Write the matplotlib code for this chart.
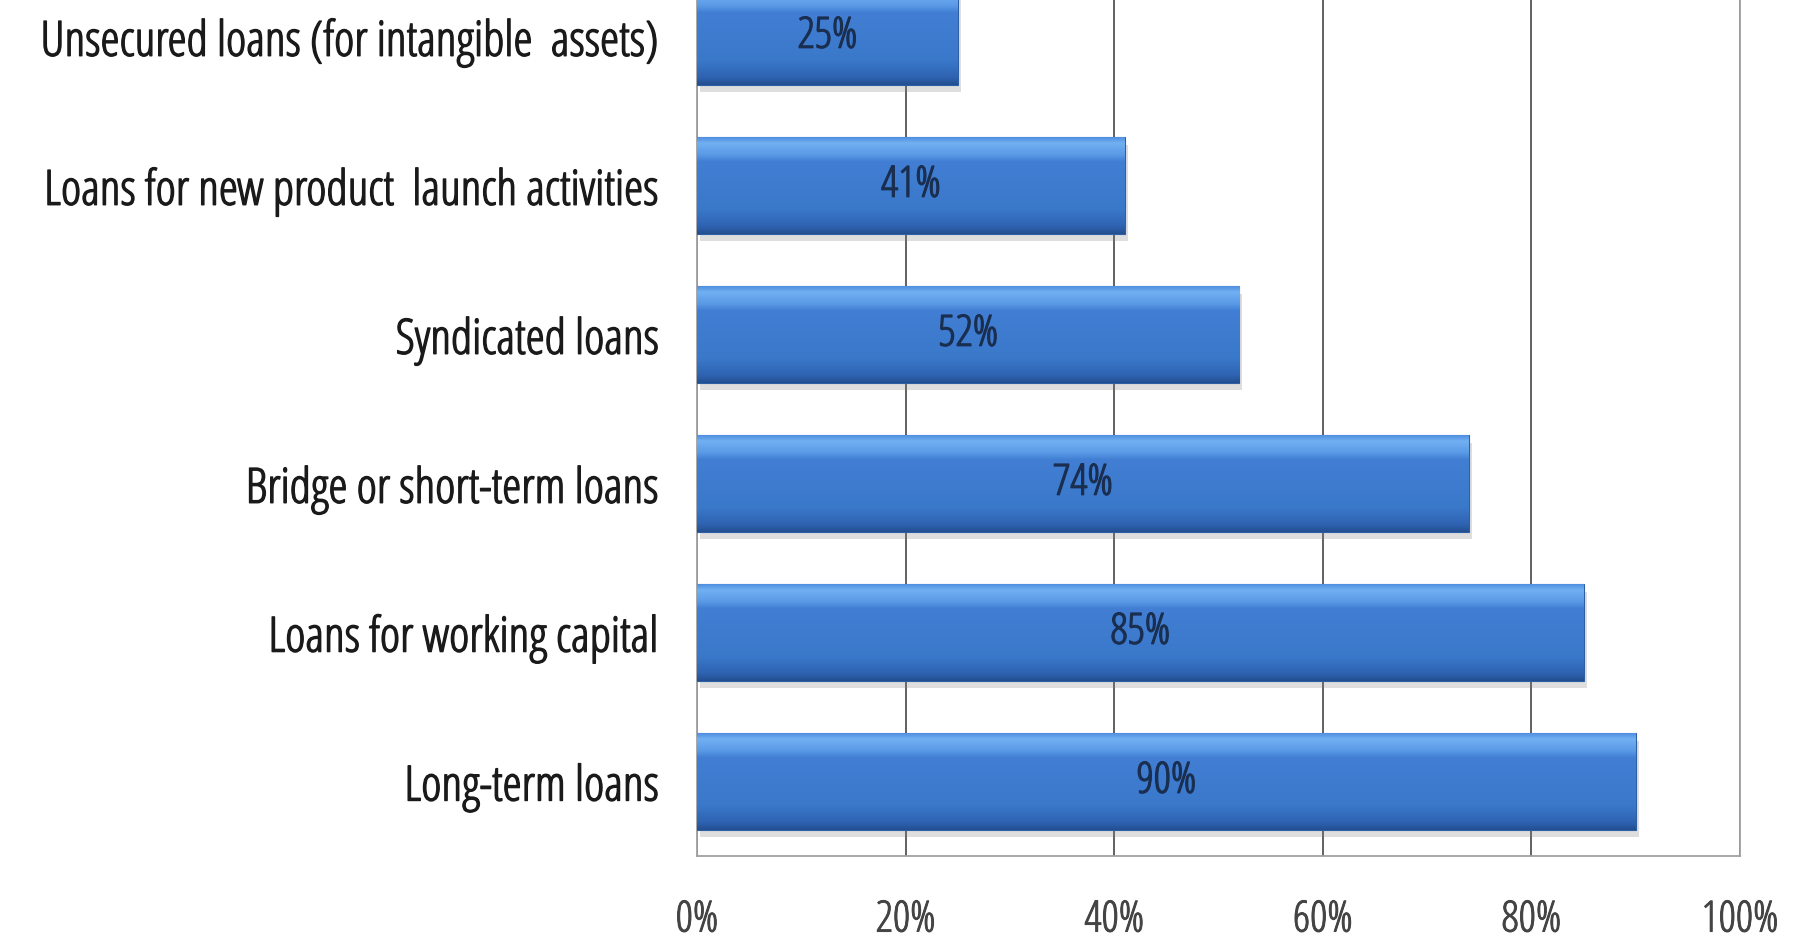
import matplotlib
matplotlib.use('Agg')
import matplotlib.pyplot as plt
import matplotlib.patheffects as pe
import numpy as np
from matplotlib.colors import LinearSegmentedColormap

plt.rcParams['font.family'] = ['Open Sans', 'DejaVu Sans']
plt.rcParams['font.stretch'] = 'condensed'
plt.rcParams['font.weight'] = 'normal'

categories = ['Long-term loans',
              'Loans for working capital',
              'Bridge or short-term loans',
              'Syndicated loans',
              'Loans for new product  launch activities',
              'Unsecured loans (for intangible  assets)']
values = [90, 85, 74, 52, 41, 25]
ticks = [0, 20, 40, 60, 80, 100]
tick_labels = ['0%', '20%', '40%', '60%', '80%', '100%']

fig = plt.figure(figsize=(18.01, 9.41), dpi=100)
ax = fig.add_axes([697/1801, 85/941, (1740-697)/1801, 894/941])

ypos = np.arange(len(categories))
h = 0.65

# bar gradient (top -> bottom)
cmap = LinearSegmentedColormap.from_list('bar', [
    (0.0, '#4f8fe0'), (0.06, '#72b0f2'), (0.18, '#5a9ae6'),
    (0.25, '#427fd4'), (0.75, '#3a78ca'), (0.92, '#2f63b2'), (1.0, '#234f90')])
grad = np.linspace(0, 1, 256).reshape(-1, 1)

# soft shadow
ax.barh(ypos - 0.05, values, height=h, left=0.3, color='#7f7f7f', alpha=0.25, zorder=2)
bars = ax.barh(ypos, values, height=h, color='#3a78ca', edgecolor='#2c5fa5',
               linewidth=0.8, zorder=3)
for b in bars:
    x0, y0 = b.get_x(), b.get_y()
    im = ax.imshow(grad, cmap=cmap, aspect='auto', origin='upper',
                   extent=(x0, x0 + b.get_width(), y0, y0 + b.get_height()), zorder=3.5)
    im.set_clip_path(b)

for y, v in zip(ypos, values):
    ax.text(v / 2, y, f'{v}%', ha='center', va='center', fontsize=31,
            color='#1a2e50', zorder=5,
            path_effects=[pe.withStroke(linewidth=0.9, foreground='#1a2e50')])

ax.set_xlim(0, 100)
ax.set_ylim(-0.5, 5.5)
ax.set_xticks(ticks)
ax.set_xticklabels(tick_labels, fontsize=31, color='#444444')
ax.set_yticks(ypos)
ax.set_yticklabels(categories, fontsize=35, color='#1a1a1a')
for t in ax.get_xticklabels():
    t.set_path_effects([pe.withStroke(linewidth=0.7, foreground='#444444')])
for t in ax.get_yticklabels():
    t.set_path_effects([pe.withStroke(linewidth=1.0, foreground='#1a1a1a')])
ax.tick_params(axis='x', length=0, pad=31)
ax.tick_params(axis='y', length=0, pad=27)
ax.grid(axis='x', color='#555555', linewidth=1.3, zorder=1)
ax.set_axisbelow(True)
for s in ax.spines.values():
    s.set_color('#a0a0a0')
    s.set_linewidth(1.3)

fig.savefig('out.png', dpi=100)
